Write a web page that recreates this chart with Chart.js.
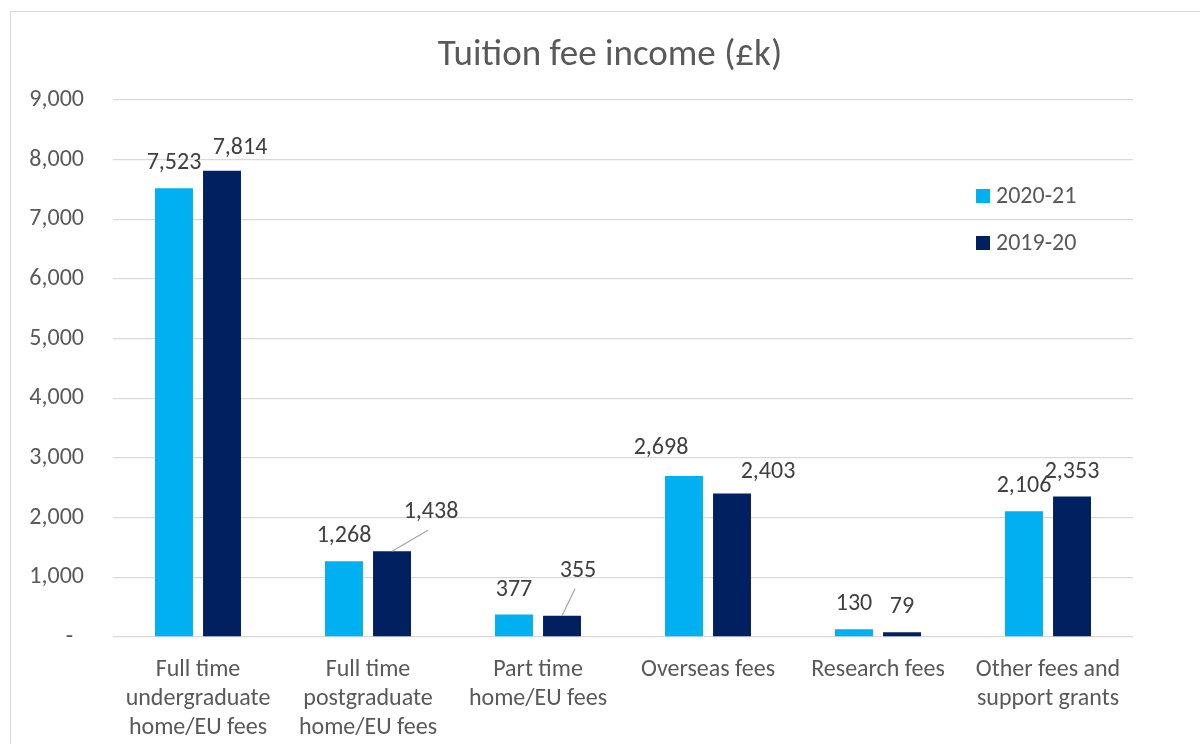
<!DOCTYPE html>
<html>
<head>
<meta charset="utf-8">
<script src="https://cdn.jsdelivr.net/npm/chart.js@4.4.0/dist/chart.umd.min.js"></script>
<style>
    html, body { margin: 0; padding: 0; background: #fff; overflow: hidden; }
    #frame { position: absolute; left: 10px; top: 11px; width: 1400px; height: 900px; border: 1px solid #d9d9d9; }
    #wrap { position: absolute; left: 0; top: 0; width: 1200px; height: 744px; }
</style>
</head>
<body>
<div id="frame"></div>
<div id="wrap"><canvas id="chart" width="1200" height="744"></canvas></div>
<script>
// Chart data
const categories = [
    ['Full time', 'undergraduate', 'home/EU fees'],
    ['Full time', 'postgraduate', 'home/EU fees'],
    ['Part time', 'home/EU fees'],
    ['Overseas fees'],
    ['Research fees'],
    ['Other fees and', 'support grants']
];
const seriesNames = ['2020-21', '2019-20'];
const fees2021 = [7523, 1268, 377, 2698, 130, 2106];
const fees1920 = [7814, 1438, 355, 2403, 79, 2353];
const yTicks = [0, 1000, 2000, 3000, 4000, 5000, 6000, 7000, 8000, 9000];

const FONT = 'Carlito, Calibri, Lato, sans-serif';
const colours = ['#00B0F0', '#002060'];

// manual nudges of some data labels (px), like the dragged labels in the original
const labelNudge = [
    [[0, 0], [0, 0], [0, 0], [-23, -3], [0, 0], [0, 0]],
    [[18, 2], [39, -14], [16, -20], [36, 3], [0, 0], [0, 0]]
];
const leaderLines = [[1, 1], [1, 2]]; // [dataset, index]

const fmt = v => v.toLocaleString('en-GB');

const extras = {
    id: 'extras',
    afterDatasetsDraw(chart) {
        const ctx = chart.ctx;
        const area = chart.chartArea;
        ctx.save();

        // title
        ctx.fillStyle = '#595959';
        ctx.font = '37px ' + FONT;
        ctx.textAlign = 'center';
        ctx.textBaseline = 'middle';
        ctx.fillText('Tuition fee income (£k)', 610, 56);

        // data labels
        ctx.font = '24px ' + FONT;
        chart.data.datasets.forEach((ds, d) => {
            const meta = chart.getDatasetMeta(d);
            meta.data.forEach((bar, i) => {
                const [dx, dy] = labelNudge[d][i];
                const x = bar.x + dx;
                const y = bar.y - 25 + dy;
                ctx.fillStyle = '#404040';
                ctx.fillText(fmt(ds.data[i]), x, y);
                if (leaderLines.some(l => l[0] === d && l[1] === i)) {
                    ctx.strokeStyle = '#a6a6a6';
                    ctx.lineWidth = 1.2;
                    ctx.beginPath();
                    ctx.moveTo(bar.x, bar.y);
                    ctx.lineTo(x - 3, y + 18);
                    ctx.stroke();
                }
            });
        });

        // legend inside plot area
        ctx.textAlign = 'left';
        seriesNames.forEach((name, k) => {
            const ly = area.top + 96 + k * 47;
            ctx.fillStyle = colours[k];
            ctx.fillRect(area.right - 157, ly - 7, 14, 14);
            ctx.fillStyle = '#595959';
            ctx.fillText(name, area.right - 137, ly + 1);
        });
        ctx.restore();
    }
};

new Chart(document.getElementById('chart').getContext('2d'), {
    type: 'bar',
    data: {
        labels: categories,
        datasets: [
            { label: seriesNames[0], data: fees2021, backgroundColor: colours[0] },
            { label: seriesNames[1], data: fees1920, backgroundColor: colours[1] }
        ]
    },
    options: {
        responsive: false,
        animation: false,
        events: [],
        categoryPercentage: 0.565,
        barPercentage: 0.79,
        layout: { padding: { top: 100, left: 0, right: 67, bottom: 0 } },
        scales: {
            x: {
                grid: { display: false, drawTicks: false },
                border: { display: false },
                ticks: {
                    color: '#595959',
                    font: { family: FONT, size: 24, lineHeight: '29px' },
                    padding: 18,
                    maxRotation: 0,
                    autoSkip: false
                },
                afterFit: s => { s.height = 107; }
            },
            y: {
                min: 0,
                max: 9000,
                afterBuildTicks: s => { s.ticks = yTicks.map(v => ({ value: v })); },
                grid: { color: '#d9d9d9', lineWidth: 1.3, drawTicks: false },
                border: { display: false },
                ticks: {
                    color: '#595959',
                    font: { family: FONT, size: 24 },
                    padding: 29,
                    callback: v => v === 0 ? '-  ' : fmt(v)
                },
                afterFit: s => { s.width = 113; }
            }
        },
        plugins: {
            legend: { display: false },
            tooltip: { enabled: false }
        }
    },
    plugins: [extras]
});
</script>
</body>
</html>
